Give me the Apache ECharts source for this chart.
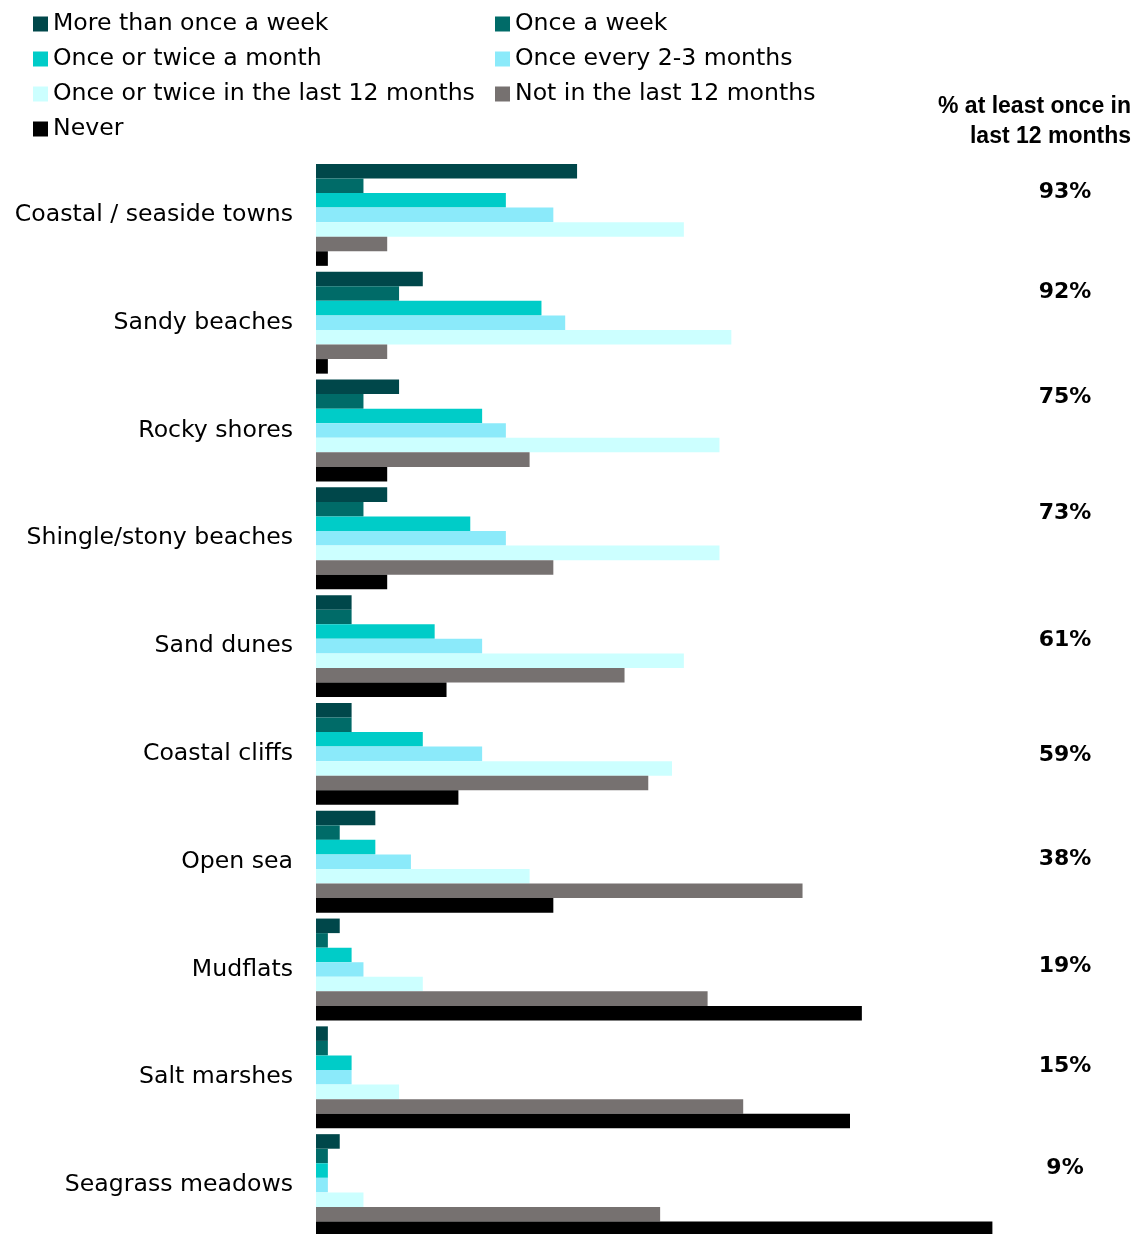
<!DOCTYPE html>
<html>
<head>
<meta charset="utf-8">
<title>Visits to coastal and marine places</title>
<script src="https://cdn.jsdelivr.net/npm/echarts@6/dist/echarts.min.js"></script>
<style>
  html, body { margin: 0; padding: 0; background: #ffffff; }
  #chart { width: 1137px; height: 1234px; }
</style>
</head>
<body>
<div id="chart"></div>
<script>
// Places asked about
const categories = [
  'Coastal / seaside towns', 'Sandy beaches', 'Rocky shores', 'Shingle/stony beaches',
  'Sand dunes', 'Coastal cliffs', 'Open sea', 'Mudflats', 'Salt marshes', 'Seagrass meadows'
];

// Visit frequency (% of respondents)
const moreThanOnceAWeek      = [22, 9, 7, 6, 3, 3, 5, 2, 1, 2];
const onceAWeek              = [4, 7, 4, 4, 3, 3, 2, 1, 1, 1];
const onceOrTwiceAMonth      = [16, 19, 14, 13, 10, 9, 5, 3, 3, 1];
const onceEvery2to3Months    = [20, 21, 16, 16, 14, 14, 8, 4, 3, 1];
const onceOrTwiceIn12Months  = [31, 35, 34, 34, 31, 30, 18, 9, 7, 4];
const notInLast12Months      = [6, 6, 18, 20, 26, 28, 41, 33, 36, 29];
const never                  = [1, 1, 6, 6, 11, 12, 20, 46, 45, 57];

// % visiting at least once in the last 12 months
const atLeastOnce = [93, 92, 75, 73, 61, 59, 38, 19, 15, 9];

const seriesDefs = [
  { name: 'More than once a week',            data: moreThanOnceAWeek,     color: '#00474a' },
  { name: 'Once a week',                      data: onceAWeek,             color: '#006b68' },
  { name: 'Once or twice a month',            data: onceOrTwiceAMonth,     color: '#00ccc8' },
  { name: 'Once every 2-3 months',            data: onceEvery2to3Months,   color: '#8beafa' },
  { name: 'Once or twice in the last 12 months', data: onceOrTwiceIn12Months, color: '#ccffff' },
  { name: 'Not in the last 12 months',        data: notInLast12Months,     color: '#767170' },
  { name: 'Never',                            data: never,                 color: '#000000' }
];

// vertical nudges (px) for the summary figures on the right
const totalLabelNudge = [-23, -30, -33, -25, -6, 1, -2, -3, -11, -17];

const FONT = '"DejaVu Sans", "Liberation Sans", Arial, sans-serif';
const LABEL_SIZE = 23.6;
const chart = echarts.init(document.getElementById('chart'), null, { renderer: 'canvas' });

const legendCommon = {
  orient: 'vertical',
  top: 12,
  itemWidth: 15,
  itemHeight: 15,
  itemGap: 11,
  icon: 'rect',
  selectedMode: false,
  padding: 0,
  textStyle: { fontFamily: FONT, fontSize: LABEL_SIZE, color: '#000000', lineHeight: 24 }
};

chart.setOption({
  backgroundColor: '#ffffff',
  animation: false,
  textStyle: { fontFamily: FONT },
  legend: [
    Object.assign({}, legendCommon, {
      left: 33,
      data: [seriesDefs[0].name, seriesDefs[2].name, seriesDefs[4].name, seriesDefs[6].name]
    }),
    Object.assign({}, legendCommon, {
      left: 495,
      data: [seriesDefs[1].name, seriesDefs[3].name, seriesDefs[5].name]
    })
  ],
  grid: {
    left: 316,
    top: 161,
    width: 712,
    height: 1078,
    outerBoundsMode: 'none',
    containLabel: false
  },
  xAxis: {
    type: 'value',
    min: 0,
    max: 60,
    show: false
  },
  yAxis: {
    type: 'category',
    data: categories,
    inverse: true,
    axisLine: { show: false },
    axisTick: { show: false },
    splitLine: { show: false },
    axisLabel: {
      margin: 23,
      fontFamily: FONT,
      fontSize: LABEL_SIZE,
      color: '#000000',
      padding: [3, 0, 0, 0]
    }
  },
  series: seriesDefs.map(s => ({
    name: s.name,
    type: 'bar',
    data: s.data,
    barGap: '0%',
    barCategoryGap: '5.5%',
    itemStyle: { color: s.color },
    emphasis: { disabled: true }
  }))
});

// Column heading plus the summary figure for each category row
const headingText = {
  type: 'text',
  id: 'heading',
  x: 1131,
  y: 122,
  style: {
    text: '% at least once in\nlast 12 months',
    align: 'right',
    verticalAlign: 'middle',
    fontFamily: '"Liberation Sans", Arial, sans-serif',
    fontWeight: 'bold',
    fontSize: 23,
    lineHeight: 30,
    fill: '#000000'
  }
};
const totalTexts = atLeastOnce.map((v, i) => {
  const y = chart.convertToPixel({ yAxisIndex: 0 }, categories[i]);
  return {
    type: 'text',
    id: 'total' + i,
    x: 1065,
    y: y + totalLabelNudge[i],
    style: {
      text: v + '%',
      align: 'center',
      verticalAlign: 'middle',
      fontFamily: FONT,
      fontWeight: 'bold',
      fontSize: 22,
      fill: '#000000'
    }
  };
});
chart.setOption({ graphic: [headingText].concat(totalTexts) });
</script>
</body>
</html>
